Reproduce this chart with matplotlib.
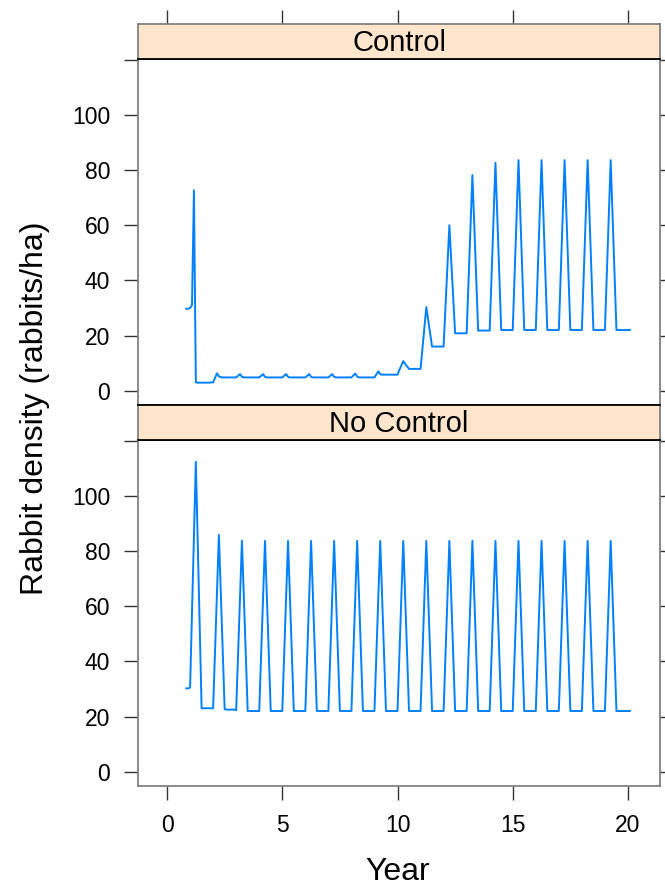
import numpy as np
import matplotlib
matplotlib.use("Agg")
import matplotlib.pyplot as plt

plt.rcParams['font.family'] = ['Liberation Sans', 'DejaVu Sans']

# monthly time steps, in years (Oct of year 0 to Jan of year 20)
months = np.arange(10, 242)
year = months / 12.0

# rabbit density, one row per calendar year (partial first / last years)
control_rows = [
    [29.7, 29.7],
    [30.0, 31.0, 72.7, 3.0, 2.9, 2.9, 2.9, 2.9, 2.9, 2.9, 2.9, 3.0],
    [3.0, 4.6, 6.3, 5.2, 4.9, 4.8, 4.8, 4.8, 4.8, 4.8, 4.8, 4.8],
    [4.8, 5.4, 6.0, 5.0, 4.8, 4.8, 4.8, 4.8, 4.8, 4.8, 4.8, 4.8],
    [4.8, 5.4, 6.0, 5.0, 4.8, 4.8, 4.8, 4.8, 4.8, 4.8, 4.8, 4.8],
    [4.8, 5.4, 6.0, 5.0, 4.8, 4.8, 4.8, 4.8, 4.8, 4.8, 4.8, 4.8],
    [4.8, 5.4, 6.0, 5.0, 4.8, 4.8, 4.8, 4.8, 4.8, 4.8, 4.8, 4.8],
    [4.8, 5.4, 6.0, 5.0, 4.8, 4.8, 4.8, 4.8, 4.8, 4.8, 4.8, 4.8],
    [4.8, 5.5, 6.2, 5.1, 4.8, 4.8, 4.8, 4.8, 4.8, 4.8, 4.8, 4.8],
    [4.8, 5.9, 7.0, 6.0, 5.8, 5.8, 5.8, 5.8, 5.8, 5.8, 5.8, 5.8],
    [5.8, 7.6, 9.2, 10.7, 9.7, 8.8, 7.9, 7.9, 7.9, 7.9, 7.9, 7.9],
    [7.9, 15.4, 22.8, 30.3, 25.5, 20.8, 16.0, 16.0, 16.0, 16.0, 16.0, 16.0],
    [16.0, 30.7, 45.3, 60.0, 46.9, 33.9, 20.8, 20.8, 20.8, 20.8, 20.8, 20.8],
    [20.8, 40.0, 59.1, 78.2, 59.4, 40.6, 21.8, 21.8, 21.8, 21.8, 21.8, 21.8],
    [21.8, 42.1, 62.4, 82.7, 62.5, 42.3, 22.0, 22.0, 22.0, 22.0, 22.0, 22.0],
    [22.0, 42.5, 63.1, 83.6, 63.1, 42.5, 22.0, 22.0, 22.0, 22.0, 22.0, 22.0],
    [22.0, 42.5, 63.1, 83.6, 63.1, 42.5, 22.0, 22.0, 22.0, 22.0, 22.0, 22.0],
    [22.0, 42.5, 63.1, 83.6, 63.1, 42.5, 22.0, 22.0, 22.0, 22.0, 22.0, 22.0],
    [22.0, 42.5, 63.1, 83.6, 63.1, 42.5, 22.0, 22.0, 22.0, 22.0, 22.0, 22.0],
    [22.0, 42.5, 63.1, 83.6, 63.1, 42.5, 22.0, 22.0, 22.0, 22.0, 22.0, 22.0],
    [22.0, 22.0],
]

no_control_rows = [
    [30.2, 30.2],
    [30.5, 57.8, 85.1, 112.4, 82.6, 52.8, 23.0, 23.0, 23.0, 23.0, 23.0, 23.0],
    [23.0, 44.0, 65.0, 85.9, 65.0, 43.9, 22.7, 22.5, 22.5, 22.5, 22.5, 22.5],
    [22.3, 42.8, 63.3, 83.8, 63.2, 42.6, 22.0, 22.0, 22.0, 22.0, 22.0, 22.0],
    [22.0, 42.5, 63.1, 83.7, 63.1, 42.5, 22.0, 22.0, 22.0, 22.0, 22.0, 22.0],
    [22.0, 42.5, 63.1, 83.7, 63.1, 42.5, 22.0, 22.0, 22.0, 22.0, 22.0, 22.0],
    [22.0, 42.5, 63.1, 83.7, 63.1, 42.5, 22.0, 22.0, 22.0, 22.0, 22.0, 22.0],
    [22.0, 42.5, 63.1, 83.7, 63.1, 42.5, 22.0, 22.0, 22.0, 22.0, 22.0, 22.0],
    [22.0, 42.5, 63.1, 83.7, 63.1, 42.5, 22.0, 22.0, 22.0, 22.0, 22.0, 22.0],
    [22.0, 42.5, 63.1, 83.7, 63.1, 42.5, 22.0, 22.0, 22.0, 22.0, 22.0, 22.0],
    [22.0, 42.5, 63.1, 83.7, 63.1, 42.5, 22.0, 22.0, 22.0, 22.0, 22.0, 22.0],
    [22.0, 42.5, 63.1, 83.7, 63.1, 42.5, 22.0, 22.0, 22.0, 22.0, 22.0, 22.0],
    [22.0, 42.5, 63.1, 83.7, 63.1, 42.5, 22.0, 22.0, 22.0, 22.0, 22.0, 22.0],
    [22.0, 42.5, 63.1, 83.7, 63.1, 42.5, 22.0, 22.0, 22.0, 22.0, 22.0, 22.0],
    [22.0, 42.5, 63.1, 83.7, 63.1, 42.5, 22.0, 22.0, 22.0, 22.0, 22.0, 22.0],
    [22.0, 42.5, 63.1, 83.7, 63.1, 42.5, 22.0, 22.0, 22.0, 22.0, 22.0, 22.0],
    [22.0, 42.5, 63.1, 83.7, 63.1, 42.5, 22.0, 22.0, 22.0, 22.0, 22.0, 22.0],
    [22.0, 42.5, 63.1, 83.7, 63.1, 42.5, 22.0, 22.0, 22.0, 22.0, 22.0, 22.0],
    [22.0, 42.5, 63.1, 83.7, 63.1, 42.5, 22.0, 22.0, 22.0, 22.0, 22.0, 22.0],
    [22.0, 42.5, 63.1, 83.7, 63.1, 42.5, 22.0, 22.0, 22.0, 22.0, 22.0, 22.0],
    [22.0, 22.0],
]

control = np.concatenate(control_rows)
no_control = np.concatenate(no_control_rows)

panels = ["Control", "No Control"]
series = [control, no_control]
xticks = [0, 5, 10, 15, 20]
yticks = [0, 20, 40, 60, 80, 100, 120]
yticklabels = ["0", "20", "40", "60", "80", "100", ""]

W, H = 665, 888
fig = plt.figure(figsize=(W / 100, H / 100), dpi=100)

gray = "#808080"
line_col = "#0080ff"
left, right = 138, 660
tops = [(24, 59, 405), (405, 440, 786)]  # strip top, panel top, panel bottom (px)

def frac(x0, y0, x1, y1):
    return [x0 / W, 1 - y1 / H, (x1 - x0) / W, (y1 - y0) / H]

for i, (name, vals) in enumerate(zip(panels, series)):
    s_top, p_top, p_bot = tops[i]
    ax = fig.add_axes(frac(left, p_top, right, p_bot))
    ax.plot(year, vals, color=line_col, lw=1.4)
    ax.set_xlim(-1.26, 21.39)
    ax.set_ylim(-5.2, 120.3)
    ax.set_yticks(yticks)
    ax.set_yticklabels(yticklabels)
    ax.set_xticks(xticks)
    ax.tick_params(axis="y", left=True, right=True, direction="out",
                   length=10, width=1, color="#333333", pad=10, labelsize=16.5)
    ax.tick_params(axis="x", direction="out", length=10, width=1,
                   color="#333333", pad=10, labelsize=16.5,
                   bottom=(i == 1), labelbottom=(i == 1), top=False)
    for sp in ax.spines.values():
        sp.set_color(gray)
        sp.set_linewidth(1.3)
    ax.spines["top"].set_color("black")

    sax = fig.add_axes(frac(left, s_top, right, p_top))
    sax.set_facecolor("#ffe5cc")
    sax.set_xlim(-1.26, 21.39)
    sax.set_yticks([])
    if i == 0:
        sax.set_xticks(xticks)
        sax.tick_params(axis="x", top=True, bottom=False, labeltop=False,
                        labelbottom=False, direction="out", length=10,
                        width=1, color="#333333")
    else:
        sax.set_xticks([])
    for sp in sax.spines.values():
        sp.set_color(gray)
        sp.set_linewidth(1.3)
    sax.spines["bottom"].set_color("black")
    if i == 1:
        sax.spines["top"].set_color("black")
    sax.text(0.5, 0.47, name, transform=sax.transAxes, ha="center",
             va="center", fontsize=21)

fig.text(35 / W, 1 - 408 / H, "Rabbit density (rabbits/ha)", rotation=90,
         ha="center", va="center", fontsize=23)
fig.text((167 + 628) / 2 / W, 1 - 872 / H, "Year", ha="center",
         va="center", fontsize=23)

fig.savefig("out.png", dpi=100)
